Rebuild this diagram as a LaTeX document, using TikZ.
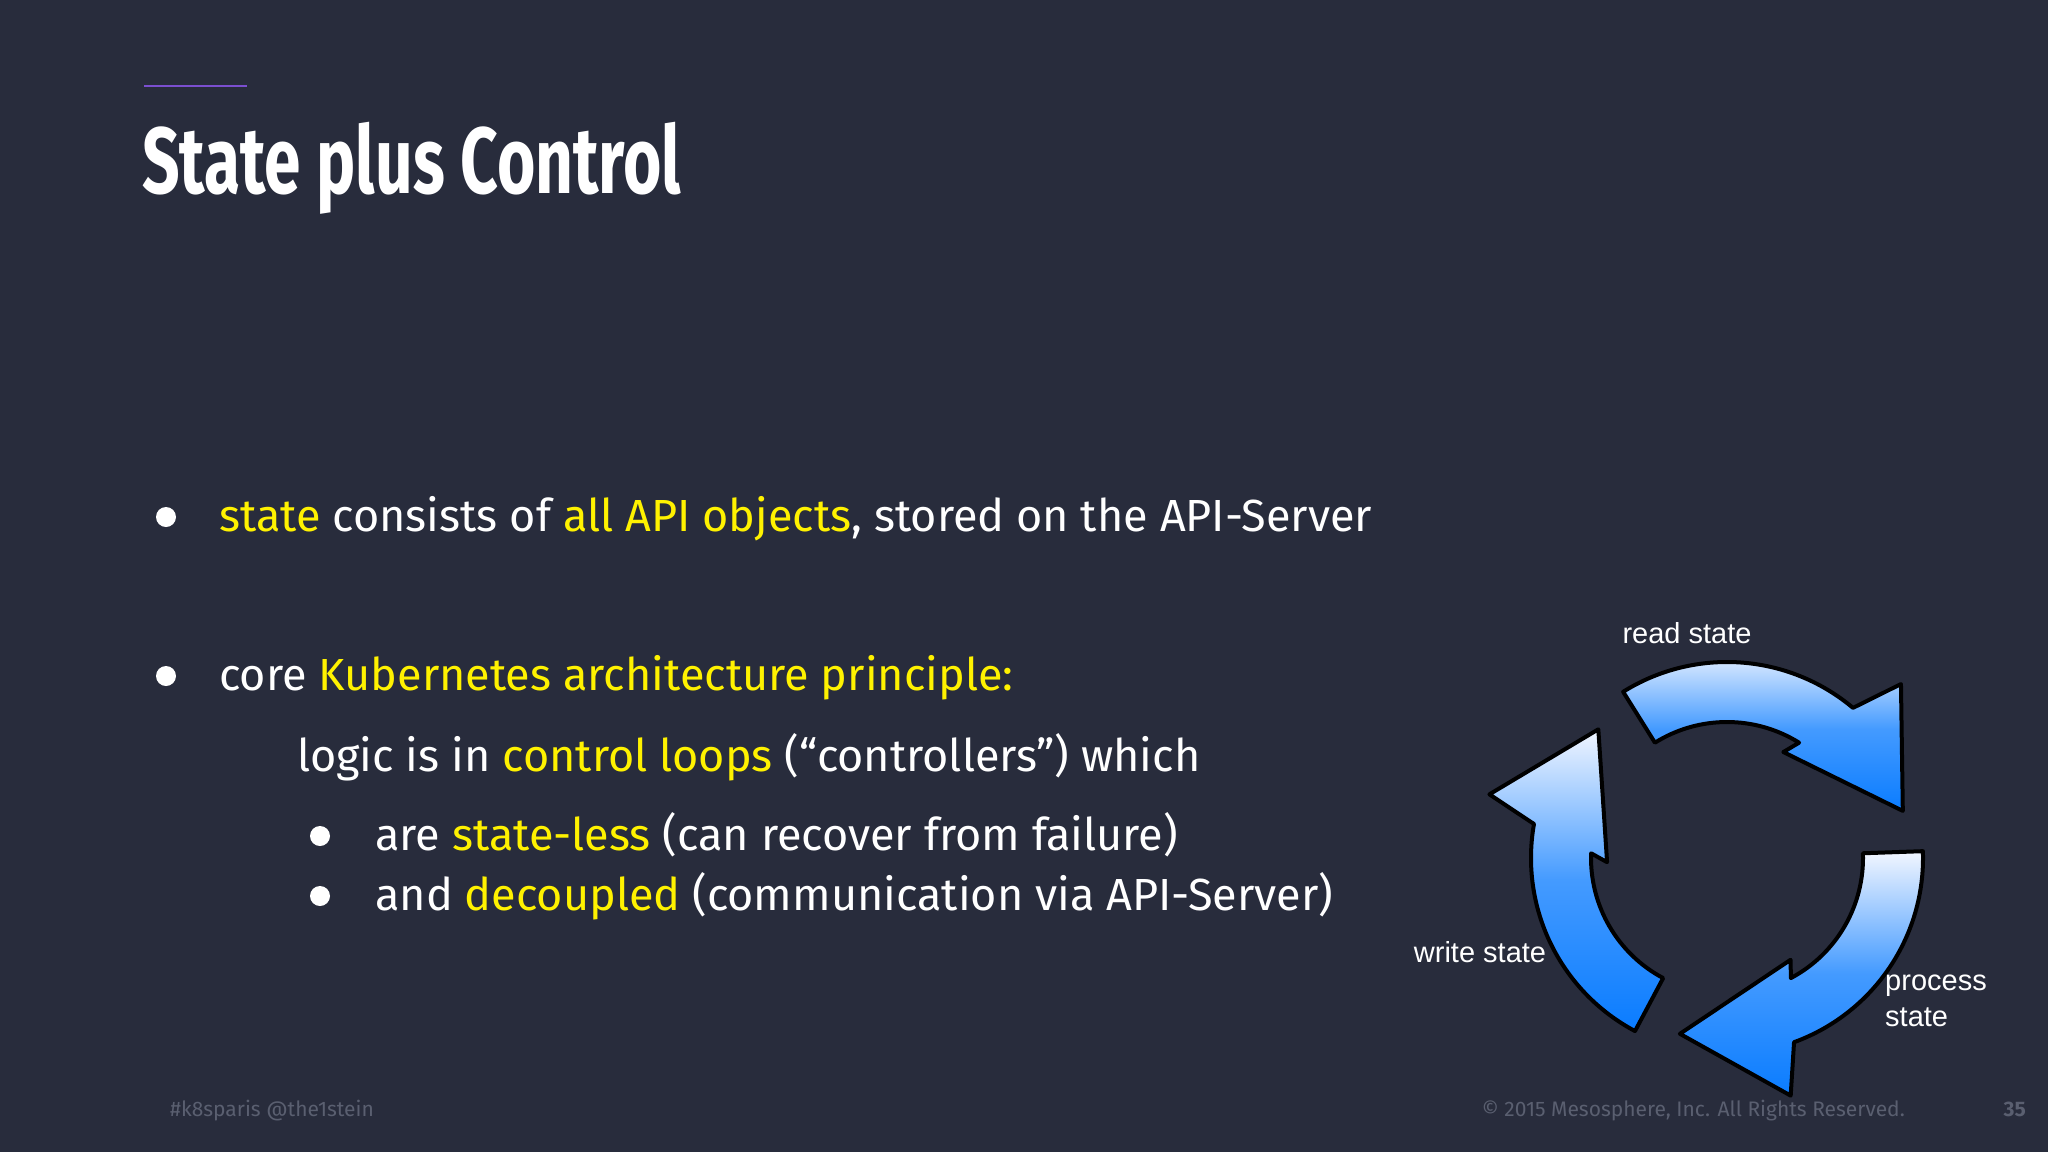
\documentclass[tikz,border=0pt]{standalone}
\usepackage{fontspec}
\setmainfont{Fira Sans}
\newfontfamily\lab{Liberation Sans}
\definecolor{bg}{HTML}{282C3C}
\definecolor{hl}{HTML}{FFF200}
\definecolor{foot}{HTML}{5A5F70}
\definecolor{purp}{HTML}{7B4FD0}
\definecolor{blu}{HTML}{0A7CFF}
\definecolor{lite}{HTML}{F2F6FF}
\tikzset{body/.style={anchor=base west,text=white,font=\fontsize{45}{50}\selectfont,inner sep=0},
 dot/.style={circle,fill=white,minimum size=20,inner sep=0},
 lbl/.style={text=white,font=\lab\fontsize{29}{35}\selectfont,inner sep=0},
 ftr/.style={text=foot,font=\fontsize{21}{25}\selectfont,inner sep=0},
 cyc/.style={draw=black,line width=4,line join=round,top color=lite,bottom color=blu,middle color=blu!75!lite}}
\begin{document}
\begin{tikzpicture}[x=1pt,y=-1pt]
\fill[bg] (0,0) rectangle (2048,1152);
\useasboundingbox (0,0) rectangle (2048,1152);
\coordinate (pl) at (144,86); \coordinate (pr) at (247,86);
\draw[purp,line width=2.5] (pl) -- (pr);
\node[anchor=base west,inner sep=0,text=white,font=\bfseries\fontsize{94}{100}\selectfont] (title) at (142,193) {\scalebox{0.7}[1]{State plus Control}};
\node[dot] (b1) at (166,517) {};
\node[body] (t1) at (219,531) {\textcolor{hl}{state} consists of \textcolor{hl}{all API objects}, stored on the API-Server};
\node[dot] (b2) at (166,676) {};
\node[body] (t2) at (219,690) {core \textcolor{hl}{Kubernetes architecture principle:}};
\node[body] (t3) at (297,771) {logic is in \textcolor{hl}{control loops} (“controllers”) which};
\node[dot] (b3) at (320,836) {};
\node[body] (t4) at (375,850) {are \textcolor{hl}{state-less} (can recover from failure)};
\node[dot] (b4) at (320,896) {};
\node[body] (t5) at (375,910) {and \textcolor{hl}{decoupled} (communication via API-Server)};
\node[ftr,anchor=base west] (f1) at (170,1116) {\#k8sparis @the1stein};
\node[ftr,anchor=base east] (f2) at (1905,1116) {© 2015 Mesosphere, Inc. All Rights Reserved.};
\node[ftr,anchor=base east,font=\bfseries\fontsize{21}{25}\selectfont] (f3) at (2026,1116) {35};
\begin{scope}[shift={(1727,858)},yscale=-1]
\foreach \o in {0,-120,-240}{
 \path[cyc] (122+\o:196) arc[start angle=122+\o,end angle=50+\o,radius=196]
  -- (45+\o:246) -- (15+\o:182) -- (62+\o:120) -- (58+\o:136)
  arc[start angle=58+\o,end angle=122+\o,radius=136] -- cycle;
}
\end{scope}
\node[lbl] (l1) at (1687,633) {read state};
\node[lbl] (l2) at (1480,952) {write state};
\node[lbl,anchor=north west,align=left] (l3) at (1885,975) {process\\[1pt]state};
\end{tikzpicture}
\end{document}
